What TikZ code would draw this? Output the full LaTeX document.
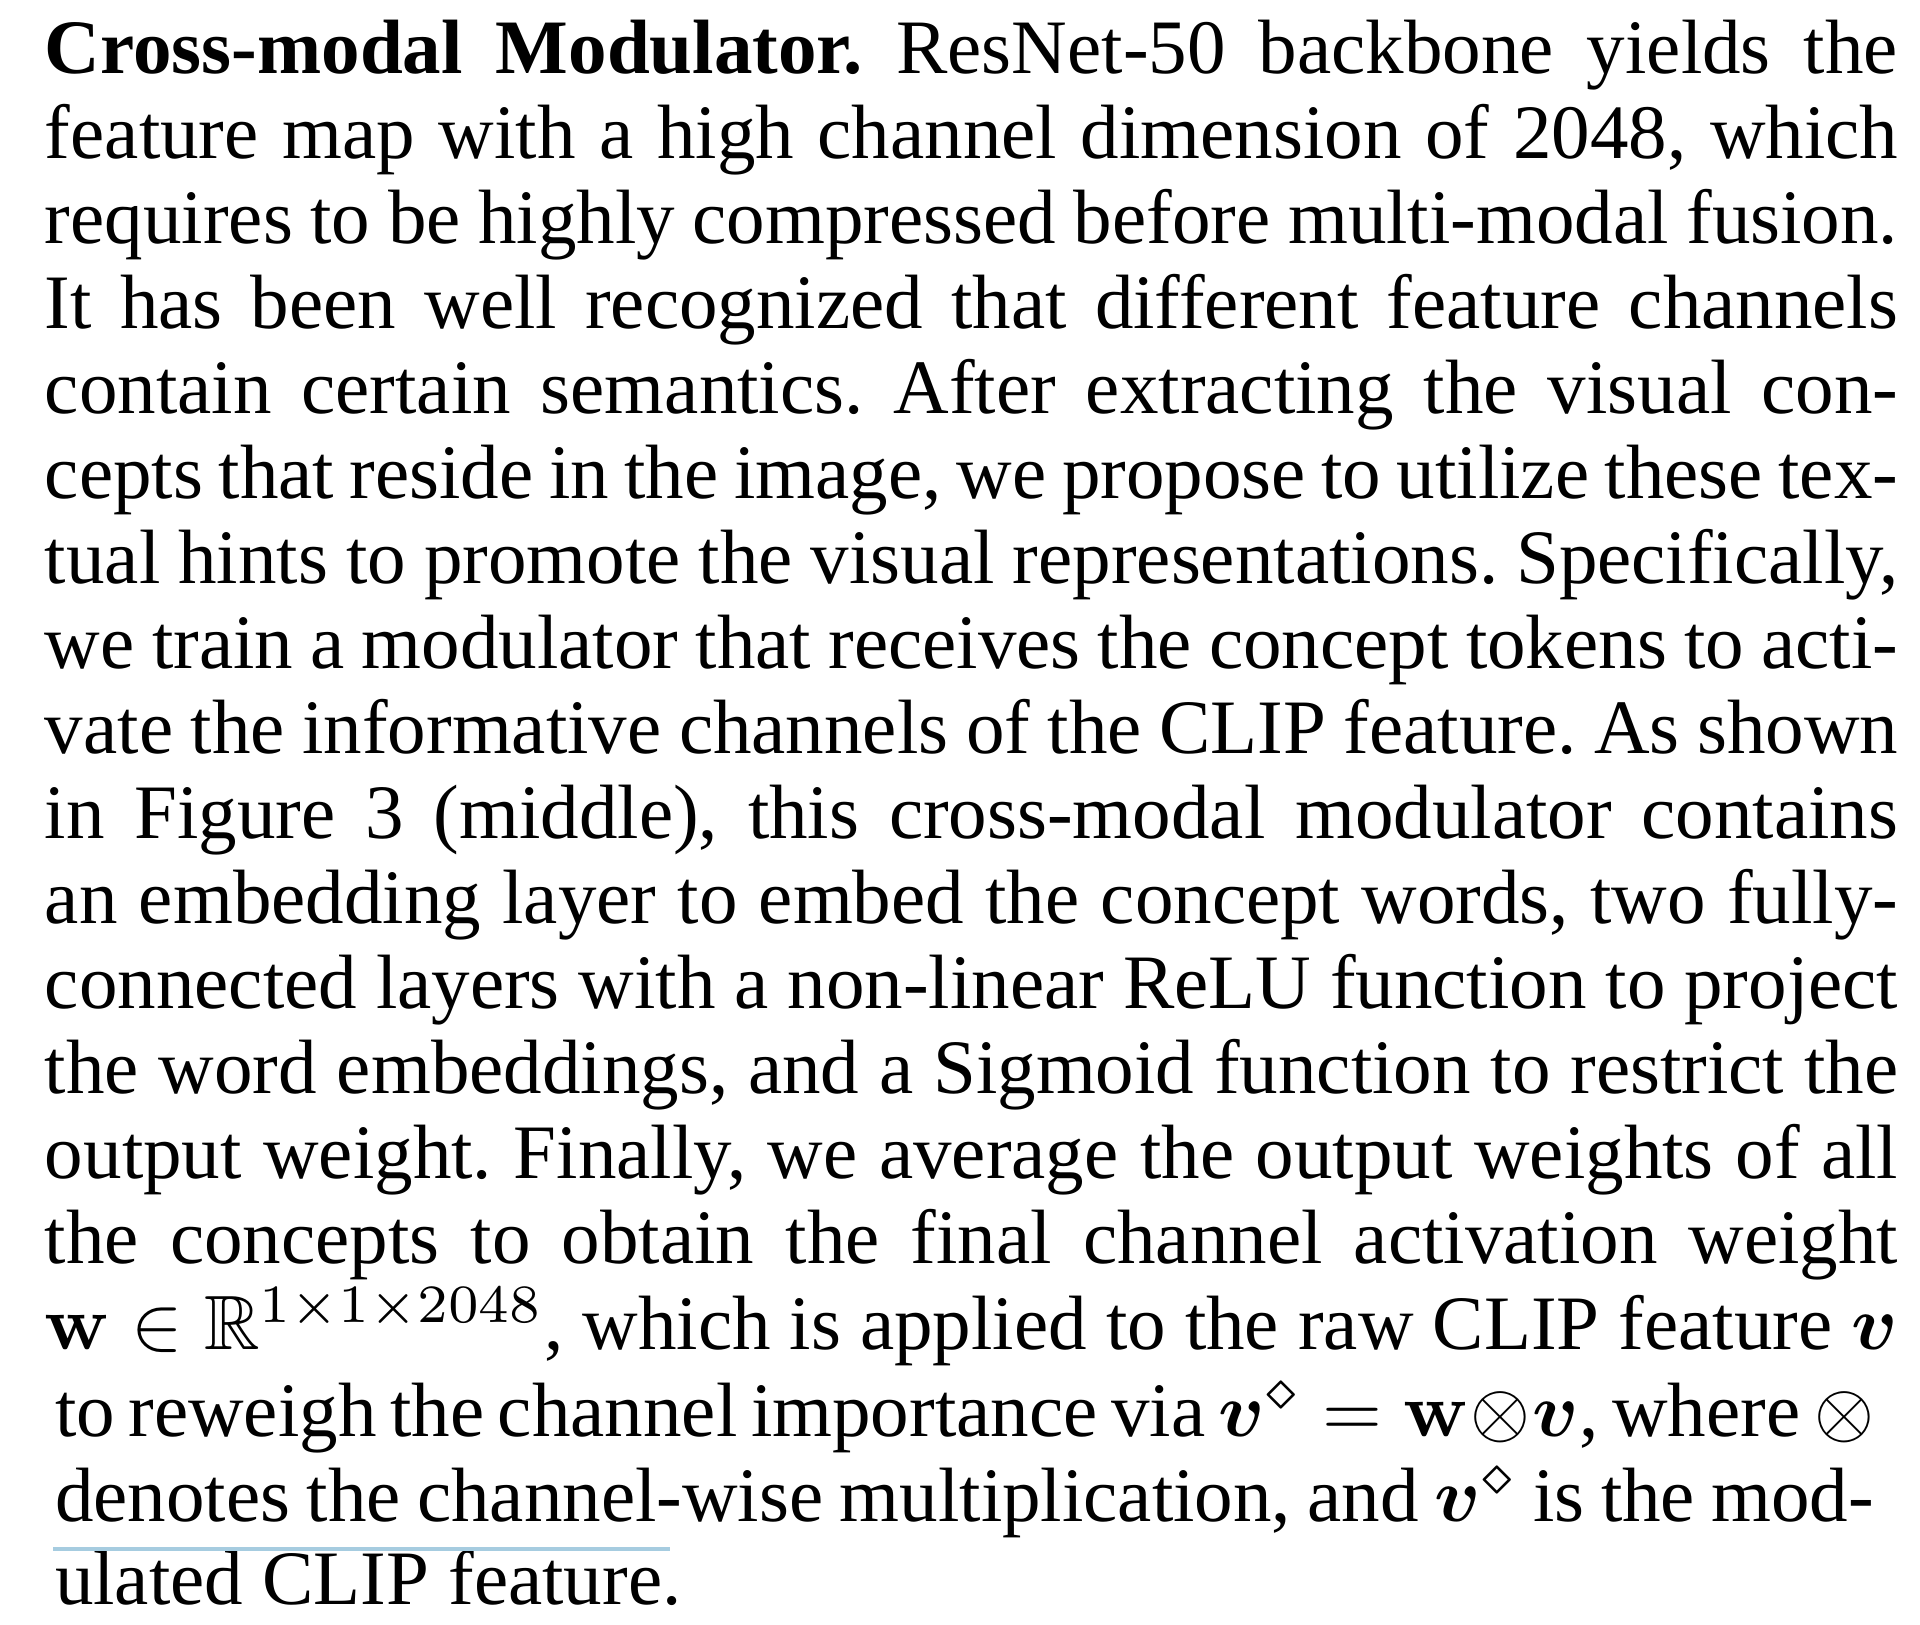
\documentclass[tikz,border=0pt]{standalone}
\usepackage{amsmath,amssymb}
\usepackage[no-math]{fontspec}
\setmainfont{Liberation Serif}
\definecolor{selblue}{RGB}{166,204,224}
\newcommand{\fullline}[1]{\makebox[240.65pt][s]{#1}}
\newcommand{\shortline}[1]{\makebox[236.23pt][s]{#1}}
\tikzset{
  txt/.style={anchor=base west, inner sep=0pt, outer sep=0pt, font=\fontsize{10pt}{11pt}\selectfont\frenchspacing},
  selline/.style={draw=selblue, line width=0.46pt}
}
\begin{document}
\begin{tikzpicture}[x=0.12987pt,y=-0.12987pt]
\useasboundingbox (0,0) rectangle (1920,1624);
\node[txt] (l1) at (45,73) {\fullline{\textbf{Cross-modal Modulator.} ResNet-50 backbone yields the}};
\node[txt] (l2) at (45,158.06) {\fullline{feature map with a high channel dimension of 2048, which}};
\node[txt] (l3) at (45,243.12) {\fullline{requires to be highly compressed before multi-modal fusion.}};
\node[txt] (l4) at (45,328.18) {\fullline{It has been well recognized that different feature channels}};
\node[txt] (l5) at (45,413.24) {\fullline{contain certain semantics. After extracting the visual con-}};
\node[txt] (l6) at (45,498.3) {\fullline{cepts that reside in the image, we propose to utilize these tex-}};
\node[txt] (l7) at (45,583.36) {\fullline{tual hints to promote the visual representations. Specifically,}};
\node[txt] (l8) at (45,668.42) {\fullline{we train a modulator that receives the concept tokens to acti-}};
\node[txt] (l9) at (45,753.48) {\fullline{vate the informative channels of the CLIP feature. As shown}};
\node[txt] (l10) at (45,838.54) {\fullline{in Figure 3 (middle), this cross-modal modulator contains}};
\node[txt] (l11) at (45,923.6) {\fullline{an embedding layer to embed the concept words, two fully-}};
\node[txt] (l12) at (45,1008.66) {\fullline{connected layers with a non-linear ReLU function to project}};
\node[txt] (l13) at (45,1093.72) {\fullline{the word embeddings, and a Sigmoid function to restrict the}};
\node[txt] (l14) at (45,1178.78) {\fullline{output weight. Finally, we average the output weights of all}};
\node[txt] (l15) at (45,1263.84) {\fullline{the concepts to obtain the final channel activation weight}};
\node[txt] (l16) at (45,1349.9) {\fullline{$\mathbf{w}\in\mathbb{R}^{1\times1\times2048}$, which is applied to the raw CLIP feature $\boldsymbol{v}$}};
\node[txt] (l17) at (55,1435.96) {\shortline{to reweigh the channel importance via $\boldsymbol{v}^{\diamond}=\mathbf{w}\otimes\boldsymbol{v}$, where $\otimes$}};
\node[txt] (l18) at (55,1521.02) {\shortline{denotes the channel-wise multiplication, and $\boldsymbol{v}^{\diamond}$ is the mod-}};
\node[txt] (l19) at (55,1604) {ulated CLIP feature.};
\draw[selline] (53,1549) -- (670,1549);
\end{tikzpicture}
\end{document}
